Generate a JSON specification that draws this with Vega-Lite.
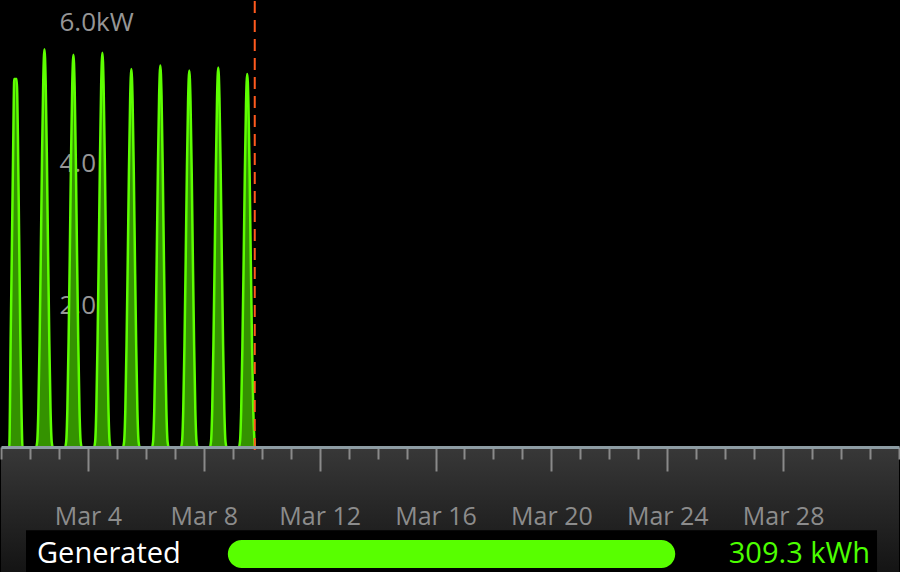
{
  "$schema": "https://vega.github.io/schema/vega-lite/v6.json",
  "width": 900,
  "height": 572,
  "autosize": {"type": "fit", "contains": "padding"},
  "padding": 0,
  "background": "#000000",
  "config": {"view": {"stroke": null}, "font": "Open Sans"},
  "datasets": {
    "power": [
      {"t": "2015-03-01T05:00Z", "kw": 0}, {"t": "2015-03-01T06:50Z", "kw": 0}, {"t": "2015-03-01T08:00Z", "kw": 1.5}, {"t": "2015-03-01T09:00Z", "kw": 2.8}, {"t": "2015-03-01T10:00Z", "kw": 4.1}, {"t": "2015-03-01T11:00Z", "kw": 5.2}, {"t": "2015-03-01T12:00Z", "kw": 5.2}, {"t": "2015-03-01T13:00Z", "kw": 5.2}, {"t": "2015-03-01T14:00Z", "kw": 4.4}, {"t": "2015-03-01T15:00Z", "kw": 3.0}, {"t": "2015-03-01T16:00Z", "kw": 1.6}, {"t": "2015-03-01T17:00Z", "kw": 0.5}, {"t": "2015-03-01T17:50Z", "kw": 0}, {"t": "2015-03-01T19:00Z", "kw": 0},
      {"t": "2015-03-02T05:00Z", "kw": 0}, {"t": "2015-03-02T06:00Z", "kw": 0.08}, {"t": "2015-03-02T07:00Z", "kw": 0.56}, {"t": "2015-03-02T08:00Z", "kw": 1.52}, {"t": "2015-03-02T09:00Z", "kw": 2.75}, {"t": "2015-03-02T10:00Z", "kw": 4.10}, {"t": "2015-03-02T11:00Z", "kw": 5.17}, {"t": "2015-03-02T12:00Z", "kw": 5.62}, {"t": "2015-03-02T13:00Z", "kw": 5.17}, {"t": "2015-03-02T14:00Z", "kw": 4.10}, {"t": "2015-03-02T15:00Z", "kw": 2.75}, {"t": "2015-03-02T16:00Z", "kw": 1.52}, {"t": "2015-03-02T17:00Z", "kw": 0.56}, {"t": "2015-03-02T18:00Z", "kw": 0.08}, {"t": "2015-03-02T19:00Z", "kw": 0},
      {"t": "2015-03-03T05:00Z", "kw": 0}, {"t": "2015-03-03T06:00Z", "kw": 0.08}, {"t": "2015-03-03T07:00Z", "kw": 0.55}, {"t": "2015-03-03T08:00Z", "kw": 1.50}, {"t": "2015-03-03T09:00Z", "kw": 2.71}, {"t": "2015-03-03T10:00Z", "kw": 4.04}, {"t": "2015-03-03T11:00Z", "kw": 5.10}, {"t": "2015-03-03T12:00Z", "kw": 5.54}, {"t": "2015-03-03T13:00Z", "kw": 5.10}, {"t": "2015-03-03T14:00Z", "kw": 4.04}, {"t": "2015-03-03T15:00Z", "kw": 2.71}, {"t": "2015-03-03T16:00Z", "kw": 1.50}, {"t": "2015-03-03T17:00Z", "kw": 0.55}, {"t": "2015-03-03T18:00Z", "kw": 0.08}, {"t": "2015-03-03T19:00Z", "kw": 0},
      {"t": "2015-03-04T05:00Z", "kw": 0}, {"t": "2015-03-04T06:00Z", "kw": 0.08}, {"t": "2015-03-04T07:00Z", "kw": 0.56}, {"t": "2015-03-04T08:00Z", "kw": 1.50}, {"t": "2015-03-04T09:00Z", "kw": 2.73}, {"t": "2015-03-04T10:00Z", "kw": 4.07}, {"t": "2015-03-04T11:00Z", "kw": 5.12}, {"t": "2015-03-04T12:00Z", "kw": 5.57}, {"t": "2015-03-04T13:00Z", "kw": 5.12}, {"t": "2015-03-04T14:00Z", "kw": 4.07}, {"t": "2015-03-04T15:00Z", "kw": 2.73}, {"t": "2015-03-04T16:00Z", "kw": 1.50}, {"t": "2015-03-04T17:00Z", "kw": 0.56}, {"t": "2015-03-04T18:00Z", "kw": 0.08}, {"t": "2015-03-04T19:00Z", "kw": 0},
      {"t": "2015-03-05T05:00Z", "kw": 0}, {"t": "2015-03-05T06:00Z", "kw": 0.08}, {"t": "2015-03-05T07:00Z", "kw": 0.53}, {"t": "2015-03-05T08:00Z", "kw": 1.44}, {"t": "2015-03-05T09:00Z", "kw": 2.62}, {"t": "2015-03-05T10:00Z", "kw": 3.90}, {"t": "2015-03-05T11:00Z", "kw": 4.91}, {"t": "2015-03-05T12:00Z", "kw": 5.34}, {"t": "2015-03-05T13:00Z", "kw": 4.91}, {"t": "2015-03-05T14:00Z", "kw": 3.90}, {"t": "2015-03-05T15:00Z", "kw": 2.62}, {"t": "2015-03-05T16:00Z", "kw": 1.44}, {"t": "2015-03-05T17:00Z", "kw": 0.53}, {"t": "2015-03-05T18:00Z", "kw": 0.08}, {"t": "2015-03-05T19:00Z", "kw": 0},
      {"t": "2015-03-06T05:00Z", "kw": 0}, {"t": "2015-03-06T06:00Z", "kw": 0.08}, {"t": "2015-03-06T07:00Z", "kw": 0.54}, {"t": "2015-03-06T08:00Z", "kw": 1.46}, {"t": "2015-03-06T09:00Z", "kw": 2.64}, {"t": "2015-03-06T10:00Z", "kw": 3.93}, {"t": "2015-03-06T11:00Z", "kw": 4.96}, {"t": "2015-03-06T12:00Z", "kw": 5.39}, {"t": "2015-03-06T13:00Z", "kw": 4.96}, {"t": "2015-03-06T14:00Z", "kw": 3.93}, {"t": "2015-03-06T15:00Z", "kw": 2.64}, {"t": "2015-03-06T16:00Z", "kw": 1.46}, {"t": "2015-03-06T17:00Z", "kw": 0.54}, {"t": "2015-03-06T18:00Z", "kw": 0.08}, {"t": "2015-03-06T19:00Z", "kw": 0},
      {"t": "2015-03-07T05:00Z", "kw": 0}, {"t": "2015-03-07T06:00Z", "kw": 0.08}, {"t": "2015-03-07T07:00Z", "kw": 0.53}, {"t": "2015-03-07T08:00Z", "kw": 1.44}, {"t": "2015-03-07T09:00Z", "kw": 2.61}, {"t": "2015-03-07T10:00Z", "kw": 3.88}, {"t": "2015-03-07T11:00Z", "kw": 4.89}, {"t": "2015-03-07T12:00Z", "kw": 5.32}, {"t": "2015-03-07T13:00Z", "kw": 4.89}, {"t": "2015-03-07T14:00Z", "kw": 3.88}, {"t": "2015-03-07T15:00Z", "kw": 2.61}, {"t": "2015-03-07T16:00Z", "kw": 1.44}, {"t": "2015-03-07T17:00Z", "kw": 0.53}, {"t": "2015-03-07T18:00Z", "kw": 0.08}, {"t": "2015-03-07T19:00Z", "kw": 0},
      {"t": "2015-03-08T05:00Z", "kw": 0}, {"t": "2015-03-08T06:00Z", "kw": 0.08}, {"t": "2015-03-08T07:00Z", "kw": 0.54}, {"t": "2015-03-08T08:00Z", "kw": 1.45}, {"t": "2015-03-08T09:00Z", "kw": 2.63}, {"t": "2015-03-08T10:00Z", "kw": 3.91}, {"t": "2015-03-08T11:00Z", "kw": 4.93}, {"t": "2015-03-08T12:00Z", "kw": 5.36}, {"t": "2015-03-08T13:00Z", "kw": 4.93}, {"t": "2015-03-08T14:00Z", "kw": 3.91}, {"t": "2015-03-08T15:00Z", "kw": 2.63}, {"t": "2015-03-08T16:00Z", "kw": 1.45}, {"t": "2015-03-08T17:00Z", "kw": 0.54}, {"t": "2015-03-08T18:00Z", "kw": 0.08}, {"t": "2015-03-08T19:00Z", "kw": 0},
      {"t": "2015-03-09T05:00Z", "kw": 0}, {"t": "2015-03-09T06:00Z", "kw": 0.08}, {"t": "2015-03-09T07:00Z", "kw": 0.53}, {"t": "2015-03-09T08:00Z", "kw": 1.42}, {"t": "2015-03-09T09:00Z", "kw": 2.58}, {"t": "2015-03-09T10:00Z", "kw": 3.85}, {"t": "2015-03-09T11:00Z", "kw": 4.85}, {"t": "2015-03-09T12:00Z", "kw": 5.27}, {"t": "2015-03-09T13:00Z", "kw": 4.85}, {"t": "2015-03-09T14:00Z", "kw": 3.85}, {"t": "2015-03-09T15:00Z", "kw": 2.58}, {"t": "2015-03-09T16:00Z", "kw": 1.42}, {"t": "2015-03-09T17:00Z", "kw": 0.53}, {"t": "2015-03-09T18:00Z", "kw": 0.08}, {"t": "2015-03-09T18:15Z", "kw": 0}
    ],
    "span": [{"start": "2015-03-01T00:00Z", "end": "2015-04-01T00:00Z", "now": "2015-03-09T18:14Z"}],
    "summary": [{"label": "Generated", "kwh": 309.3, "amount": "309.3 kWh"}]
  },
  "layer": [
    {
      "layer": [
        {
          "data": {"name": "span"},
          "mark": {"type": "rect", "color": {"gradient": "linear", "x1": 0, "y1": 0, "x2": 0, "y2": 1, "stops": [{"offset": 0, "color": "#383838"}, {"offset": 1, "color": "#141414"}]}},
          "encoding": {
            "x": {"field": "start", "type": "temporal"},
            "x2": {"field": "end"},
            "y": {"datum": 0, "type": "quantitative"},
            "y2": {"datum": -1.76}
          }
        },
        {
          "data": {"name": "power"},
          "mark": {"type": "area", "interpolate": "monotone", "color": "#349200"},
          "encoding": {
            "x": {
              "field": "t", "type": "temporal",
              "scale": {"type": "utc", "domain": [{"year": 2015, "month": 3, "date": 1, "utc": true}, {"year": 2015, "month": 4, "date": 1, "utc": true}], "nice": false},
              "axis": {
                "orient": "bottom", "offset": -125, "title": null, "grid": false, "zindex": 1,
                "domainColor": "#8d9ca3", "domainWidth": 3,
                "tickColor": "#8a8a8a", "tickWidth": 2,
                "tickSize": {"condition": {"test": "utcdate(datum.value) % 4 === 0", "value": 24}, "value": 12},
                "tickCount": {"interval": "day", "step": 1},
                "labelExpr": "utcdate(datum.value) % 4 === 0 ? utcFormat(datum.value, '%b %-d') : ''",
                "labelFont": "Open Sans", "labelFontSize": 25, "labelColor": "#8c8c8c",
                "labelBaseline": "alphabetic", "labelPadding": 53,
                "labelOverlap": false, "labelFlush": false, "labelBound": false
              }
            },
            "y": {
              "field": "kw", "type": "quantitative",
              "scale": {"domain": [-1.76, 6.3], "nice": false, "zero": false},
              "axis": {
                "orient": "left", "values": [2, 4, 6], "title": null, "grid": false, "ticks": false, "domain": false, "zindex": 0,
                "labelExpr": "datum.value === 6 ? '6.0kW' : format(datum.value, '.1f')",
                "labelAlign": "left", "labelBaseline": "middle", "labelPadding": -58,
                "labelFont": "Open Sans", "labelFontSize": 26, "labelColor": "#969696",
                "labelOverlap": false, "labelFlush": false, "labelBound": false
              }
            }
          }
        },
        {
          "data": {"name": "power"},
          "mark": {"type": "line", "interpolate": "monotone", "color": "#5dff00", "strokeWidth": 2.5},
          "encoding": {
            "x": {"field": "t", "type": "temporal"},
            "y": {"field": "kw", "type": "quantitative"}
          }
        },
        {
          "data": {"name": "span"},
          "mark": {"type": "rule", "color": "#ff5a1e", "strokeWidth": 2, "strokeDash": [12, 7]},
          "encoding": {
            "x": {"field": "now", "type": "temporal"},
            "y": {"datum": 6.3, "type": "quantitative"},
            "y2": {"datum": -0.1}
          }
        }
      ]
    },
    {
      "data": {"name": "summary"},
      "layer": [
        {
          "mark": {"type": "rect", "color": "#000000"},
          "encoding": {
            "x": {"datum": -139.5, "type": "quantitative", "scale": {"domain": [-156.8, 464.0], "nice": false, "zero": false}, "axis": null},
            "x2": {"datum": 448.8},
            "y": {"datum": -1.17, "type": "quantitative"},
            "y2": {"datum": -1.76}
          }
        },
        {
          "mark": {"type": "rect", "color": "#58ff00", "cornerRadius": 14},
          "encoding": {
            "x": {"field": "kwh", "type": "quantitative", "axis": null},
            "x2": {"datum": 0},
            "y": {"datum": -1.31, "type": "quantitative"},
            "y2": {"datum": -1.705}
          }
        },
        {
          "mark": {"type": "text", "align": "left", "baseline": "alphabetic", "fontSize": 29, "font": "Open Sans", "color": "#ffffff"},
          "encoding": {
            "x": {"datum": -131.9, "type": "quantitative", "axis": null},
            "y": {"datum": -1.635, "type": "quantitative"},
            "text": {"field": "label"}
          }
        },
        {
          "mark": {"type": "text", "align": "right", "baseline": "alphabetic", "fontSize": 29, "font": "Open Sans", "color": "#4cff00"},
          "encoding": {
            "x": {"datum": 444.0, "type": "quantitative", "axis": null},
            "y": {"datum": -1.635, "type": "quantitative"},
            "text": {"field": "amount"}
          }
        }
      ]
    }
  ],
  "resolve": {"scale": {"x": "independent"}, "axis": {"x": "independent"}}
}
